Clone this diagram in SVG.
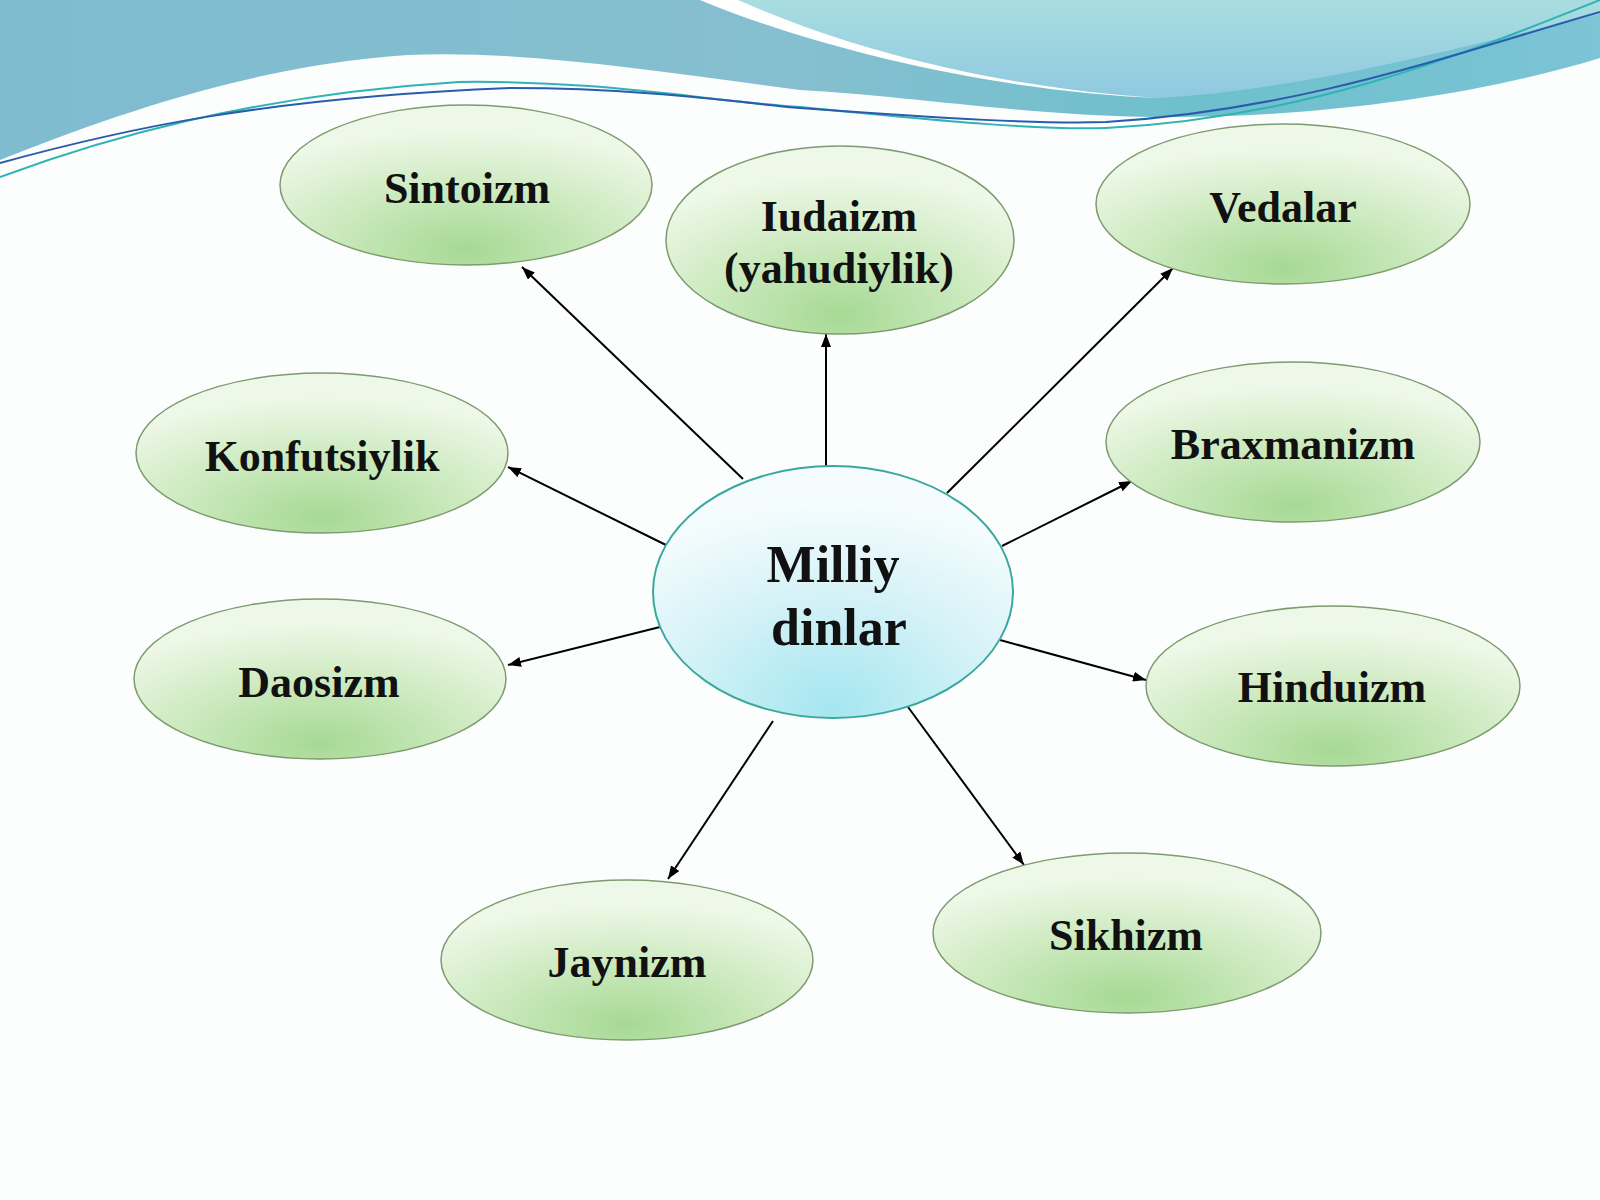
<svg xmlns="http://www.w3.org/2000/svg" width="1600" height="1200" viewBox="0 0 1600 1200">
  <defs>
    <linearGradient id="topBand" x1="0" y1="0" x2="1" y2="0">
      <stop offset="0" stop-color="#7fbccf"/>
      <stop offset="0.5" stop-color="#85bfd0"/>
      <stop offset="0.75" stop-color="#6ec0cc"/>
      <stop offset="1" stop-color="#7cc4d6"/>
    </linearGradient>
    <linearGradient id="aqua" x1="0" y1="0" x2="0" y2="1">
      <stop offset="0" stop-color="#a9dde0"/>
      <stop offset="1" stop-color="#8fc9e0"/>
    </linearGradient>
    <radialGradient id="greenFill" cx="0.5" cy="0.9" r="0.75">
      <stop offset="0" stop-color="#a6d994"/>
      <stop offset="0.55" stop-color="#cfebc2"/>
      <stop offset="1" stop-color="#eef8e8"/>
    </radialGradient>
    <radialGradient id="cyanFill" cx="0.5" cy="0.95" r="0.8">
      <stop offset="0" stop-color="#a5e6f0"/>
      <stop offset="0.55" stop-color="#d5f2f7"/>
      <stop offset="1" stop-color="#f4fcfd"/>
    </radialGradient>
    <marker id="arrow" markerUnits="userSpaceOnUse" markerWidth="13" markerHeight="10" refX="13" refY="5" orient="auto">
      <path d="M0,0 L13,5 L0,10 z" fill="#000"/>
    </marker>
  </defs>
  <style>
    .leaf { fill: url(#greenFill); stroke: #7d9b6e; stroke-width: 1.5; }
    .hub { fill: url(#cyanFill); stroke: #3aa89f; stroke-width: 2; }
    .lbl { font-family: "Liberation Serif", "Times New Roman", serif; font-weight: bold; font-size: 44px; fill: #111; text-anchor: middle; }
    .hublbl { font-family: "Liberation Serif", "Times New Roman", serif; font-weight: bold; font-size: 52px; fill: #111; text-anchor: middle; }
    .conn { stroke: #000; stroke-width: 2; fill: none; marker-end: url(#arrow); }
  </style>

  <rect x="0" y="0" width="1600" height="1200" fill="#fcfdfd"/>

  <!-- top decorative banner -->
  <g id="banner">
    <path d="M0,0 L1600,0 L1600,58 C1480,95 1320,118 1157,117 C1030,116 900,95 800,90 C650,70 520,50 408,55 C250,65 100,120 0,160 Z" fill="url(#topBand)"/>
    <path d="M735,0 L1600,0 L1600,14 C1450,50 1300,90 1160,98 C1000,88 850,50 735,0 Z" fill="url(#aqua)"/>
    <path d="M700,0 L738,0 C850,50 1000,88 1160,98 C1000,92 820,50 700,0 Z" fill="#ffffff"/>
    <path d="M0,177 C100,140 250,95 459,82 C600,80 700,100 800,107 C950,122 1040,130 1106,128 C1300,118 1450,60 1600,0" fill="none" stroke="#2fb3b3" stroke-width="2"/>
    <path d="M0,163 C120,130 260,98 510,88 C650,88 750,104 800,108 C950,119 1040,124 1106,122 C1300,110 1450,55 1600,12" fill="none" stroke="#2a5cae" stroke-width="2"/>
  </g>

  <g id="connectors">
    <line class="conn" x1="743" y1="479" x2="522" y2="267"/>
    <line class="conn" x1="826" y1="466" x2="826" y2="334"/>
    <line class="conn" x1="947" y1="493" x2="1173" y2="268"/>
    <line class="conn" x1="666" y1="545" x2="508" y2="467"/>
    <line class="conn" x1="1002" y1="546" x2="1132" y2="481"/>
    <line class="conn" x1="660" y1="627" x2="508" y2="665"/>
    <line class="conn" x1="1000" y1="640" x2="1146" y2="680"/>
    <line class="conn" x1="773" y1="721" x2="668" y2="879"/>
    <line class="conn" x1="908" y1="707" x2="1024" y2="865"/>
  </g>

  <g id="node-sintoizm">
    <ellipse class="leaf" cx="466" cy="185" rx="186" ry="80"/>
    <text class="lbl" x="467" y="203">Sintoizm</text>
  </g>
  <g id="node-iudaizm">
    <ellipse class="leaf" cx="840" cy="240" rx="174" ry="94"/>
    <text class="lbl" x="839" y="231">Iudaizm</text>
    <text class="lbl" x="839" y="283">(yahudiylik)</text>
  </g>
  <g id="node-vedalar">
    <ellipse class="leaf" cx="1283" cy="204" rx="187" ry="80"/>
    <text class="lbl" x="1283" y="222">Vedalar</text>
  </g>
  <g id="node-konfutsiylik">
    <ellipse class="leaf" cx="322" cy="453" rx="186" ry="80"/>
    <text class="lbl" x="322" y="471">Konfutsiylik</text>
  </g>
  <g id="node-braxmanizm">
    <ellipse class="leaf" cx="1293" cy="442" rx="187" ry="80"/>
    <text class="lbl" x="1293" y="459">Braxmanizm</text>
  </g>
  <g id="node-daosizm">
    <ellipse class="leaf" cx="320" cy="679" rx="186" ry="80"/>
    <text class="lbl" x="319" y="697">Daosizm</text>
  </g>
  <g id="node-hinduizm">
    <ellipse class="leaf" cx="1333" cy="686" rx="187" ry="80"/>
    <text class="lbl" x="1332" y="702">Hinduizm</text>
  </g>
  <g id="node-jaynizm">
    <ellipse class="leaf" cx="627" cy="960" rx="186" ry="80"/>
    <text class="lbl" x="627" y="977">Jaynizm</text>
  </g>
  <g id="node-sikhizm">
    <ellipse class="leaf" cx="1127" cy="933" rx="194" ry="80"/>
    <text class="lbl" x="1126" y="950">Sikhizm</text>
  </g>
  <g id="node-milliy-dinlar">
    <ellipse class="hub" cx="833" cy="592" rx="180" ry="126"/>
    <text class="hublbl" x="833" y="582">Milliy</text>
    <text class="hublbl" x="839" y="645">dinlar</text>
  </g>
</svg>
